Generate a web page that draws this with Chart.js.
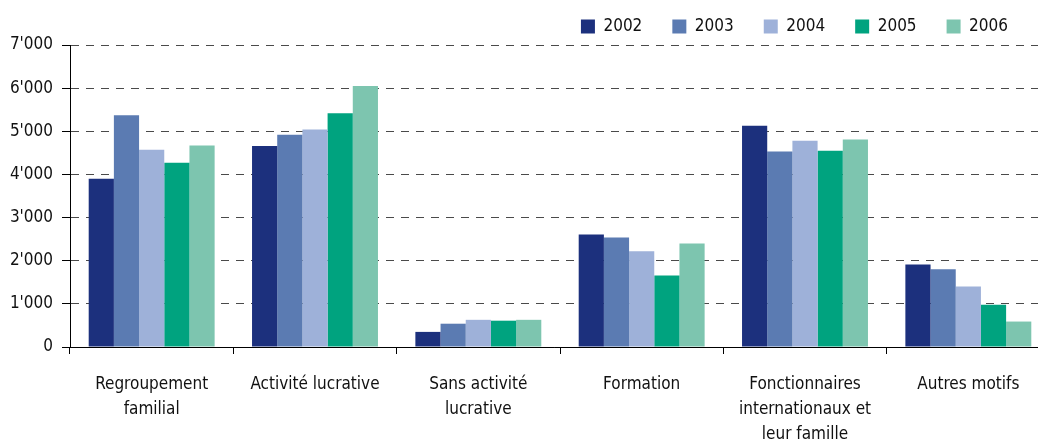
<!DOCTYPE html>
<html>
<head>
<meta charset="utf-8">
<script src="https://cdn.jsdelivr.net/npm/chart.js@4/dist/chart.umd.min.js"></script>
<style>
  body { margin: 0; background: #fff; overflow: hidden; }
</style>
</head>
<body>
<canvas id="chart" width="1038" height="441"></canvas>
<script>
const categories = [
  ['Regroupement', 'familial'],
  'Activité lucrative',
  ['Sans activité', 'lucrative'],
  'Formation',
  ['Fonctionnaires', 'internationaux et', 'leur famille'],
  'Autres motifs'
];
const years = ['2002', '2003', '2004', '2005', '2006'];
const v2002 = [3900, 4660, 350, 2610, 5130, 1910];
const v2003 = [5370, 4920, 540, 2540, 4530, 1800];
const v2004 = [4570, 5040, 630, 2220, 4780, 1400];
const v2005 = [4270, 5420, 610, 1660, 4550, 980];
const v2006 = [4670, 6050, 630, 2400, 4810, 590];
const colors = ['#1c307d', '#5b7bb2', '#9eb1d9', '#00a37f', '#7dc5af'];

Chart.defaults.font.family = "'DejaVu Sans Condensed', sans-serif";
Chart.defaults.font.size = 17;
Chart.defaults.color = '#111';

function fmt(v) {
  return String(v).replace(/\B(?=(\d{3})+(?!\d))/g, "'");
}

// the last category runs a bit past the right edge of the picture
const widenX = {
  id: 'widenX',
  afterLayout(chart) {
    const x = chart.scales.x;
    x.right = x.left + 980;
    x.width = 980;
    x.configure();
  }
};

const series = [v2002, v2003, v2004, v2005, v2006];
const data = {
  labels: categories,
  datasets: series.map((vals, i) => ({
    label: years[i],
    data: vals,
    backgroundColor: colors[i],
    borderWidth: 0,
    categoryPercentage: 0.771,
    barPercentage: 1
  }))
};

new Chart(document.getElementById('chart'), {
  type: 'bar',
  data: data,
  plugins: [widenX],
  options: {
    responsive: false,
    animation: false,
    layout: {
      padding: { top: -12, right: 0, bottom: 0, left: 0 }
    },
    scales: {
      x: {
        afterFit: (s) => { s.height = 94; },
        grid: {
          offset: true,
          drawOnChartArea: false,
          tickLength: 7,
          tickColor: '#000'
        },
        border: { color: '#000', width: 1 },
        ticks: {
          padding: 18,
          maxRotation: 0,
          autoSkip: false,
          font: { lineHeight: 1.47 }
        }
      },
      y: {
        min: 0,
        max: 7000,
        afterFit: (s) => { s.width = 70; },
        ticks: {
          stepSize: 1000,
          padding: 9,
          callback: (v) => fmt(v)
        },
        grid: {
          color: '#4a4a4a',
          lineWidth: 1,
          tickLength: 8,
          tickColor: '#000',
          tickBorderDash: []
        },
        border: { color: '#000', width: 1, dash: [8, 7] }
      }
    },
    plugins: {
      legend: {
        position: 'top',
        align: 'end',
        maxHeight: 66,
        labels: {
          boxWidth: 14,
          boxHeight: 14,
          padding: 30,
          color: '#111'
        }
      },
      tooltip: { enabled: false }
    }
  }
});
</script>
</body>
</html>
